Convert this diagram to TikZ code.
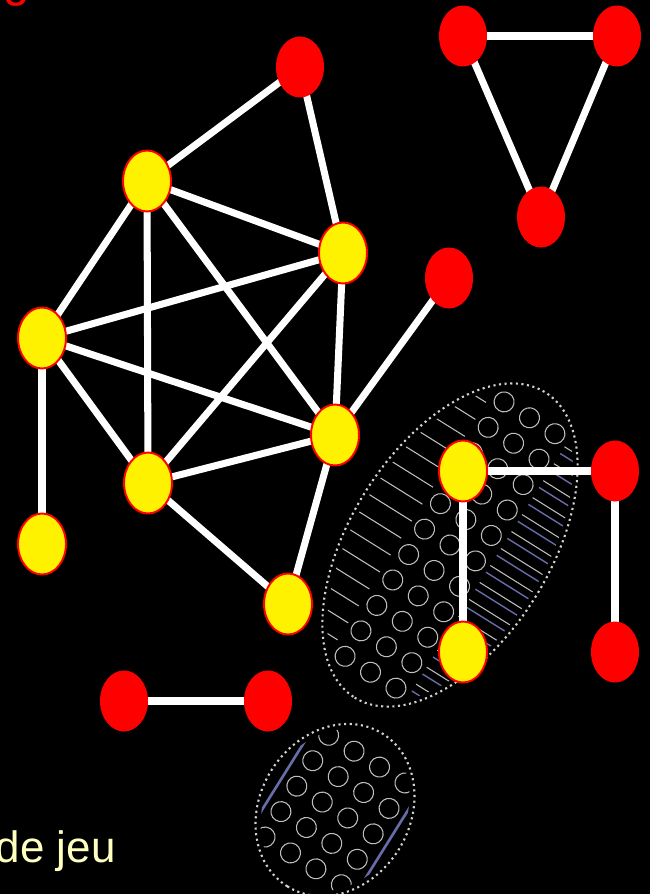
\documentclass[tikz,border=0pt]{standalone}
\usepackage{fontspec}
\setmainfont{Liberation Sans}
\usetikzlibrary{shapes.geometric}
\definecolor{jeu}{RGB}{255,255,192}
\definecolor{sole}{RGB}{104,108,168}
\pgfdeclarelayer{back}
\pgfdeclarelayer{lines}
\pgfsetlayers{back,lines,main}

\begin{document}
\begin{tikzpicture}[x=0.02cm,y=-0.02cm,every node/.style={ellipse,
    minimum width=0.96cm,minimum height=1.22cm,inner sep=0pt},
  rednode/.style={fill=red},
  yellownode/.style={fill=yellow,draw=red,line width=1.1pt},
  edge/.style={white,line width=4pt},
  lug/.style={gray!50,line width=0.6pt}]
  \useasboundingbox (0,0) rectangle (650,894);

  \begin{pgfonlayer}{back}
  \fill[black] (0,0) rectangle (650,894);
  % shoe print, front part
  \begin{scope}[shift={(450,545)},rotate=-122]
    \draw[gray!35,dotted,line width=1.2pt] (0,0) ellipse [x radius=3.6cm,y radius=2cm];
    \clip (0,0) ellipse [x radius=3.5cm,y radius=1.9cm];
    \foreach \i in {-150,-120,...,150}
      \foreach \j in {-30,0,30}
        \draw[lug] (\i,\j) circle [radius=0.2cm];
    \foreach \i in {-160,-140,...,160} {
      \draw[lug] (\i,45) -- (\i,100);
      \draw[sole,line width=0.8pt] (\i+4,-45) -- (\i+4,-100);
      \draw[lug] (\i-4,-45) -- (\i-4,-100);
    }
  \end{scope}
  % shoe print, heel
  \begin{scope}[shift={(335,810)},rotate=-122]
    \draw[gray!35,dotted,line width=1.2pt] (0,0) ellipse [x radius=1.8cm,y radius=1.5cm];
    \clip (0,0) ellipse [x radius=1.7cm,y radius=1.4cm];
    \foreach \i in {-60,-30,...,60}
      \foreach \j in {-45,-15,15,45}
        \draw[lug] (\i,\j) circle [radius=0.2cm];
    \draw[sole,line width=1.5pt] (-80,-62) -- (80,-62);
    \draw[sole,line width=1.5pt] (-80,62) -- (80,62);
  \end{scope}
  \end{pgfonlayer}

  \node[rednode] (r1) at (300,67) {};
  \node[rednode] (t1) at (463,36) {};
  \node[rednode] (t2) at (617,36) {};
  \node[rednode] (t3) at (541,217) {};
  \node[rednode] (r2) at (449,278) {};
  \node[rednode] (r3) at (615,471) {};
  \node[rednode] (r4) at (615,652) {};
  \node[rednode] (r5) at (124,701) {};
  \node[rednode] (r6) at (268,701) {};

  \node[yellownode] (y1) at (147,181) {};
  \node[yellownode] (y2) at (343,253) {};
  \node[yellownode] (y3) at (42,338) {};
  \node[yellownode] (y4) at (335,435) {};
  \node[yellownode] (y5) at (148,483) {};
  \node[yellownode] (y6) at (42,544) {};
  \node[yellownode] (y7) at (288,604) {};
  \node[yellownode] (y8) at (463,471) {};
  \node[yellownode] (y9) at (463,652) {};

  \begin{pgfonlayer}{lines}
  \foreach \a/\b in {r1/y1,r1/y2,t1/t2,t2/t3,t3/t1,y1/y2,y1/y3,y1/y4,y1/y5,
      y2/y3,y2/y4,y2/y5,y3/y4,y3/y5,y3/y6,y4/y5,y4/y7,y4/r2,y5/y7,
      y8/r3,y8/y9,r3/r4,r5/r6}
    \draw[edge] (\a.center) -- (\b.center);
  \end{pgfonlayer}

  \node[rectangle,minimum size=0pt,anchor=base,text=red,
    font=\fontsize{27}{32}\selectfont] (titre) at (17,-4) {g};
  \node[rectangle,minimum size=0pt,anchor=base east,text=jeu,
    font=\fontsize{25}{30}\selectfont] (jeu) at (116,862) {de jeu};
\end{tikzpicture}
\end{document}
